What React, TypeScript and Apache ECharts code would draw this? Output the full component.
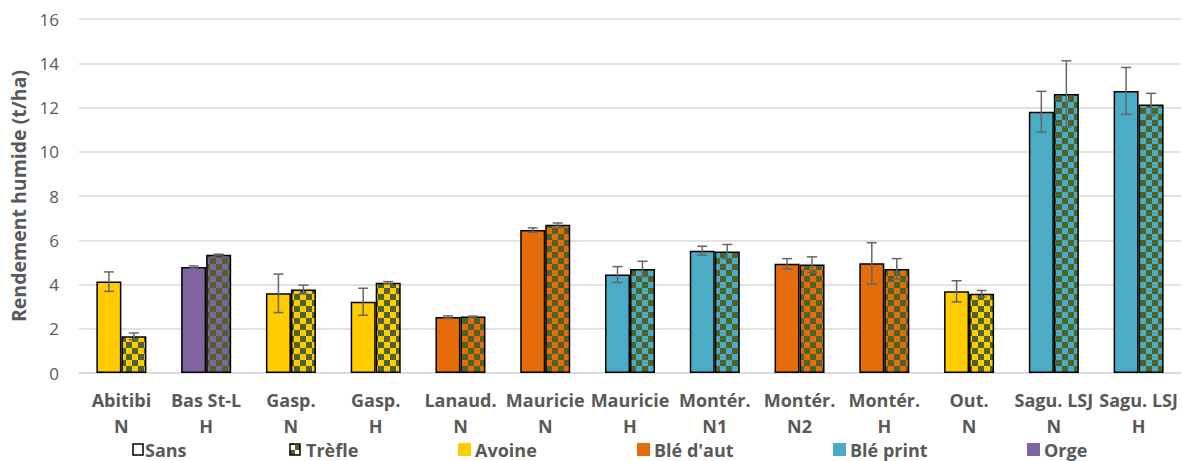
import React, { useEffect, useRef } from "react";
import * as echarts from "echarts";

const categories = [
  "Abitibi\nN", "Bas St-L\nH", "Gasp.\nN", "Gasp.\nH", "Lanaud.\nN", "Mauricie\nN",
  "Mauricie\nH", "Montér.\nN1", "Montér.\nN2", "Montér.\nH", "Out.\nN", "Sagu. LSJ\nN", "Sagu. LSJ\nH",
];
const crops = [
  "Avoine", "Orge", "Avoine", "Avoine", "Blé d'aut", "Blé d'aut",
  "Blé print", "Blé print", "Blé d'aut", "Blé d'aut", "Avoine", "Blé print", "Blé print",
];
const sansValues = [4.13, 4.79, 3.6, 3.22, 2.53, 6.46, 4.45, 5.53, 4.94, 4.96, 3.69, 11.81, 12.75];
const sansErrors = [0.44, 0.05, 0.87, 0.61, 0.05, 0.1, 0.36, 0.2, 0.23, 0.93, 0.48, 0.92, 1.06];
const trefleValues = [1.66, 5.35, 3.77, 4.08, 2.55, 6.7, 4.7, 5.49, 4.9, 4.7, 3.58, 12.61, 12.14];
const trefleErrors = [0.15, 0.02, 0.2, 0.05, 0.02, 0.08, 0.35, 0.32, 0.35, 0.47, 0.15, 1.5, 0.5];
const cropNames = ["Avoine", "Blé d'aut", "Blé print", "Orge"];
const cropColors = ["#FFCC00", "#E46C0A", "#4BACC6", "#8064A2"];
const treatmentNames = ["Sans", "Trèfle"];

const CHECK = "#4F6228";
const TEXT = "#595959";
const FONT = "'Open Sans', sans-serif";
const BAR_FRACTION = 0.59;

function makeChecker(base: string, cell: number) {
  const c = document.createElement("canvas");
  c.width = cell * 2;
  c.height = cell * 2;
  const ctx = c.getContext("2d")!;
  ctx.fillStyle = base;
  ctx.fillRect(0, 0, cell * 2, cell * 2);
  ctx.fillStyle = CHECK;
  ctx.fillRect(0, 0, cell, cell);
  ctx.fillRect(cell, cell, cell, cell);
  return c;
}

function colorOf(crop: string) {
  return cropColors[cropNames.indexOf(crop)];
}

export default function App() {
  const ref = useRef<HTMLDivElement>(null);
  useEffect(() => {
    if (!ref.current) return;
    const chart = echarts.init(ref.current, null, { renderer: "svg" });

    const patterns: Record<string, any> = {};
    cropNames.forEach((n, i) => {
      patterns[n] = { image: makeChecker(cropColors[i], 6), repeat: "repeat" };
    });

    const errSeries = (vals: number[], errs: number[], side: number) => ({
      type: "custom",
      z: 5,
      silent: true,
      data: vals.map((v, i) => [i, v, errs[i]]),
      encode: { x: 0, y: 1 },
      renderItem: (params: any, api: any) => {
        const i = api.value(0);
        const v = api.value(1);
        const e = api.value(2);
        const band = api.size([1, 0])[0];
        const bw = (band * BAR_FRACTION) / 2;
        const x = api.coord([i, v])[0] + (side * bw) / 2;
        const hi = api.coord([i, v + e])[1];
        const lo = api.coord([i, v - e])[1];
        const cap = 5;
        const style = { stroke: "#676767", lineWidth: 1.5 };
        return {
          type: "group",
          children: [
            { type: "line", shape: { x1: x, y1: hi, x2: x, y2: lo }, style },
            { type: "line", shape: { x1: x - cap, y1: hi, x2: x + cap, y2: hi }, style },
            { type: "line", shape: { x1: x - cap, y1: lo, x2: x + cap, y2: lo }, style },
          ],
        };
      },
    });

    const legendItems = [
      { x: 133, tx: 145, label: treatmentNames[0], kind: "sans" },
      { x: 290, tx: 306, label: treatmentNames[1], kind: "trefle" },
      { x: 458, tx: 475, label: cropNames[0], kind: 0 },
      { x: 637, tx: 654, label: cropNames[1], kind: 1 },
      { x: 833, tx: 850, label: cropNames[2], kind: 2 },
      { x: 1027, tx: 1044, label: cropNames[3], kind: 3 },
    ];
    const legendPattern = { image: makeChecker("#FFFFFF", 5), repeat: "repeat" };
    const graphics: any[] = [];
    legendItems.forEach((it) => {
      let rect: any;
      if (it.kind === "sans") {
        rect = { type: "rect", shape: { x: it.x, y: 444, width: 10, height: 11 }, style: { fill: "#fff", stroke: "#000", lineWidth: 1.5 } };
      } else if (it.kind === "trefle") {
        rect = { type: "rect", shape: { x: it.x, y: 444, width: 10, height: 11 }, style: { fill: legendPattern, stroke: "#000", lineWidth: 1.5 } };
      } else {
        rect = { type: "rect", shape: { x: it.x, y: 443, width: 13, height: 13 }, style: { fill: cropColors[it.kind as number] } };
      }
      graphics.push(rect);
      graphics.push({
        type: "text",
        x: it.tx,
        y: 450,
        style: { text: it.label, fill: TEXT, font: `bold 18px ${FONT}`, verticalAlign: "middle", textAlign: "left" },
      });
    });

    chart.setOption({
      animation: false,
      grid: { left: 77, right: 1, top: 19, bottom: 88, containLabel: false },
      xAxis: {
        type: "category",
        data: categories,
        axisLine: { lineStyle: { color: "#D9D9D9", width: 1.5 } },
        axisTick: { show: false },
        axisLabel: {
          color: TEXT,
          fontFamily: FONT,
          fontWeight: "bold",
          fontSize: 18,
          lineHeight: 26,
          margin: 14,
          interval: 0,
        },
      },
      yAxis: {
        type: "value",
        min: 0,
        max: 16,
        interval: 2,
        name: "Rendement humide (t/ha)",
        nameLocation: "middle",
        nameGap: 51,
        nameTextStyle: { color: TEXT, fontFamily: FONT, fontWeight: "bold", fontSize: 19.5 },
        axisLine: { show: false },
        axisTick: { show: false },
        axisLabel: { color: TEXT, fontFamily: FONT, fontSize: 17, margin: 20 },
        splitLine: { lineStyle: { color: "#D9D9D9", width: 1.5 } },
      },
      graphic: graphics,
      series: [
        {
          name: treatmentNames[0],
          type: "bar",
          barGap: "0%",
          barCategoryGap: `${Math.round((1 - BAR_FRACTION) * 100)}%`,
          data: sansValues.map((v, i) => ({
            value: v,
            itemStyle: { color: colorOf(crops[i]), borderColor: "#000", borderWidth: 1.5 },
          })),
        },
        {
          name: treatmentNames[1],
          type: "bar",
          data: trefleValues.map((v, i) => ({
            value: v,
            itemStyle: { color: patterns[crops[i]], borderColor: "#000", borderWidth: 1.5 },
          })),
        },
        errSeries(sansValues, sansErrors, -1),
        errSeries(trefleValues, trefleErrors, 1),
      ],
    });
    return () => chart.dispose();
  }, []);
  return <div ref={ref} style={{ width: 1182, height: 461, position: "absolute", left: 0, top: 0 }} />;
}
